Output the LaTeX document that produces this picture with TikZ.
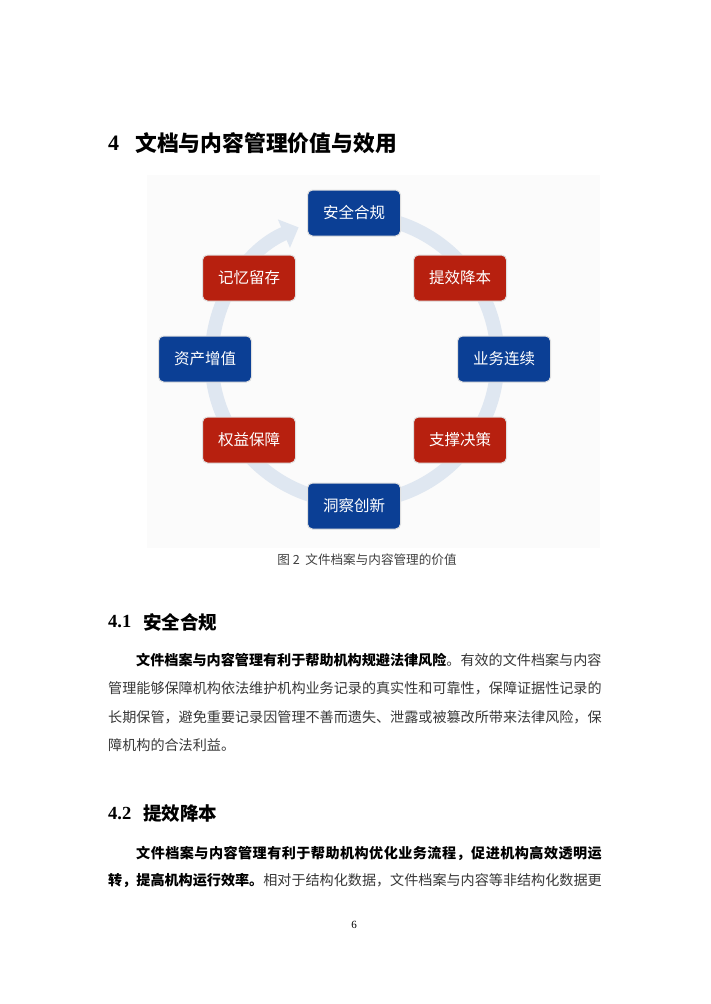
\documentclass[tikz,border=0pt]{standalone}
\usepackage{fontspec}
\usepackage{tikz}
\setmainfont{Liberation Serif}
\newfontfamily\cjk{Noto Sans CJK SC}
\usetikzlibrary{arrows.meta}
\usetikzlibrary{positioning}
\definecolor{kblau}{HTML}{0B3F95}
\definecolor{krot}{HTML}{B7200F}
\definecolor{kring}{HTML}{DFE7F1}

\begin{document}
\begin{tikzpicture}[%
x={(1pt,0pt)},
y={(0pt,1pt)},
kasten/.style={rounded corners=5pt,minimum width=93pt,minimum height=46pt,draw=black!12,line width=1pt,text=white,font=\cjk\fontsize{15.5}{18}\selectfont},
zeile/.style={anchor=west,inner sep=0pt,font=\cjk\fontsize{14.1}{17}\selectfont,text=black!78},
titel/.style={anchor=west,inner sep=0pt},
]

\useasboundingbox (0,0) rectangle (710,-1004);
\fill[white] (0,0) rectangle (710,-1004);

%Ueberschrift
\node[titel,font=\bfseries\fontsize{22}{26}\selectfont](h4) at (108,-143){4};
\node[titel,font=\cjk\bfseries\fontsize{21.8}{26}\selectfont](h4t) at (135,-143){文档与内容管理价值与效用};

%Bild
\fill[black!1.5] (147,-175) rectangle (600,-548);
\coordinate (M) at (354.5,-359);
\draw[kring,line width=14pt,-{Triangle[width=30pt,length=16pt]}] ([shift={(90:143pt)}]M) arc[start angle=90,end angle=-247,radius=143pt];

%Kaesten
\node[kasten,fill=kblau](ak) at (354,-213){安全合规};
\node[kasten,fill=krot](tk) at (460,-278){提效降本};
\node[kasten,fill=kblau](yk) at (504,-359){业务连续};
\node[kasten,fill=krot](zk) at (460,-440){支撑决策};
\node[kasten,fill=kblau](dk) at (354,-506){洞察创新};
\node[kasten,fill=krot](qk) at (249,-440){权益保障};
\node[kasten,fill=kblau](zzk) at (205,-359){资产增值};
\node[kasten,fill=krot](jk) at (249,-278){记忆留存};

\node[font=\cjk\fontsize{12.6}{15}\selectfont,text=black!75](cap) at (367,-560){图 2\ \ 文件档案与内容管理的价值};

%4.1
\node[titel,font=\bfseries\fontsize{18.5}{22}\selectfont](h41) at (108,-622){4.1};
\node[titel,font=\cjk\bfseries\fontsize{18.5}{22}\selectfont](h41t) at (143,-622){安全合规};
\node[zeile](z1) at (136,-660){{\bfseries\color{black}文件档案与内容管理有利于帮助机构规避法律风险}。有效的文件档案与内容};
\node[zeile](z2) at (108,-688){管理能够保障机构依法维护机构业务记录的真实性和可靠性，保障证据性记录的};
\node[zeile](z3) at (108,-717){长期保管，避免重要记录因管理不善而遗失、泄露或被篡改所带来法律风险，保};
\node[zeile](z4) at (108,-745){障机构的合法利益。};

%4.2
\node[titel,font=\bfseries\fontsize{18.5}{22}\selectfont](h42) at (108,-813){4.2};
\node[titel,font=\cjk\bfseries\fontsize{18.5}{22}\selectfont](h42t) at (143,-813){提效降本};
\node[zeile](z5) at (136,-853){\bfseries\color{black}\addfontfeature{LetterSpace=3.3}文件档案与内容管理有利于帮助机构优化业务流程，促进机构高效透明运};
\node[zeile](z6) at (108,-880){{\bfseries\color{black}转，提高机构运行效率。}相对于结构化数据，文件档案与内容等非结构化数据更};

\node[font=\fontsize{11}{13}\selectfont](pg) at (354,-925){6};

\end{tikzpicture}
\end{document}
